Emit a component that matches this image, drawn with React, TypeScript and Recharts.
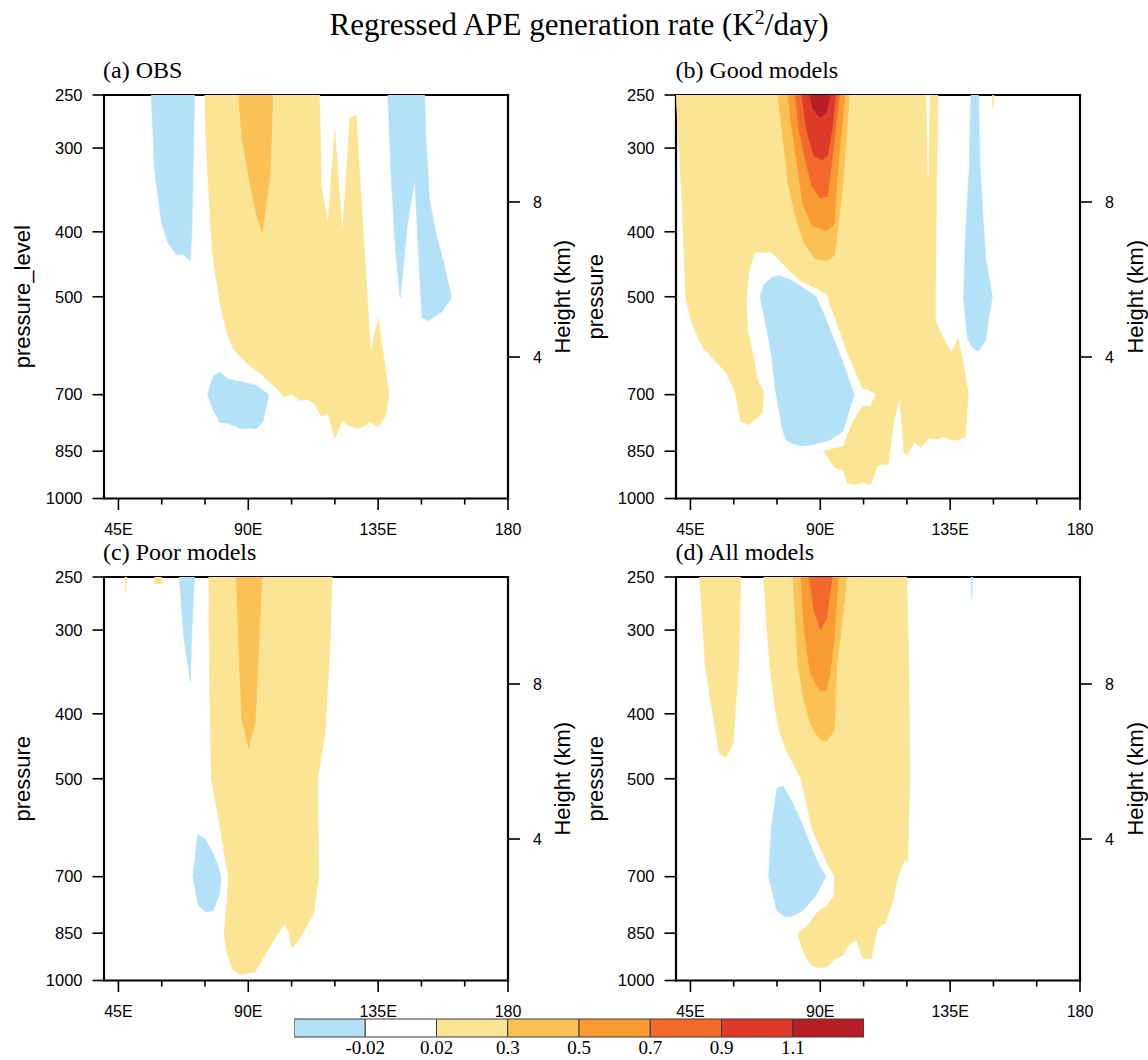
// Regressed APE generation rate — four pressure/longitude contour panels + shared colorbar.
// Filled contours are drawn as closed Scatter polygons (line renderer), lowest level first.

import React from 'react';
import { ScatterChart, Scatter, XAxis, YAxis, BarChart, Bar } from 'recharts';

type Pt = [number, number]; // [longitude °E, pressure hPa]

const SANS = '"Liberation Sans", Arial, Helvetica, sans-serif';
const SERIF = '"Liberation Serif", "Times New Roman", serif';

// colour levels: <-0.02, -0.02..0.02, 0.02..0.3, 0.3..0.5, 0.5..0.7, 0.7..0.9, 0.9..1.1, >1.1
const LEVEL_COLORS = ['#b3e1f7', '#ffffff', '#fbe594', '#fcc155', '#f99b32', '#f3692c', '#dd3a29', '#b91d24'];
const LEVEL_LABELS = ['-0.02', '0.02', '0.3', '0.5', '0.7', '0.9', '1.1'];
const LEVEL_TICKS = [1, 2, 3, 4, 5, 6, 7];

const LON_DOMAIN = [40, 180];
const LON_TICKS = [45, 60, 75, 90, 105, 120, 135, 150, 165, 180];
const P_DOMAIN = [250, 1000];
const P_TICKS = [250, 300, 400, 500, 700, 850, 1000];
const H_DOMAIN = [0.35, 10.76];
const H_TICKS = [4, 8];

// (a) OBS
const OBS_YELLOW: Pt[] = [[74.9,250],[114.7,250],[115.3,342],[117.6,389],[120,282],[122.6,403],[125.2,271],[127.4,268],[132.4,605],[135,538],[138.8,700],[137.5,754],[135,781],[132.4,770],[128,787],[124.8,779],[122.6,765],[120,813],[117.6,747],[115.3,754],[112.7,720],[110.2,711],[107.7,714],[105.1,699],[102.6,705],[98.8,679],[94.3,652],[90.5,633],[88,619],[84.8,598],[82.6,567],[80.3,514],[78.4,457],[77.5,427],[76.5,363],[75.3,287]];
const OBS_ORANGE: Pt[] = [[86.7,250],[87.7,287],[90.5,338],[93,380],[94.9,401],[96.2,363],[97.5,330],[98.1,287],[98.4,250]];
const OBS_BLUE_W: Pt[] = [[56.4,250],[57.5,323],[60,389],[62.3,417],[65.1,432],[67.4,432],[69.8,442],[70.4,407],[71.4,250]];
const OBS_BLUE_E: Pt[] = [[138.4,250],[139.4,323],[140.7,407],[142.6,502],[145.2,389],[147.7,334],[148.7,407],[150.2,538],[152.5,543],[157.2,526],[160.4,502],[157.9,447],[155.3,407],[152.8,359],[151.5,287],[151.1,250]];
const OBS_BLUE_LOW: Pt[] = [[75.9,700],[77.8,737],[80.1,770],[82.9,772],[87.7,787],[90.3,785],[92.7,787],[95,770],[97.1,700],[93,679],[89,672],[82.9,663],[80.1,648],[77.8,657]];

// (b) Good models
const GOOD_YELLOW: Pt[] = [[40,250],[130.8,250],[130.2,363],[129.9,544],[132.7,577],[135.3,605],[137.8,577],[139.7,633],[141.3,700],[140.3,808],[137.8,818],[135.3,818],[132.7,808],[130.2,816],[127.6,813],[124.9,839],[122.6,824],[120,862],[119,852],[117.5,703],[115.6,763],[113.5,889],[112.2,889],[109.9,892],[107.4,953],[104.8,946],[102.3,953],[99.5,950],[97.9,908],[94.9,898],[93.2,877],[91.1,849],[97.9,837],[101,772],[104.8,728],[107.4,728],[109.3,699],[106.1,686],[104.8,687],[99.8,612],[93.4,514],[92.2,496],[88.4,485],[83.3,474],[78.2,452],[73.1,429],[67.4,429],[65.3,457],[64.3,502],[64.9,564],[66.8,612],[68.1,663],[70.4,695],[70,745],[65.3,776],[62.4,767],[60.5,695],[57.3,648],[52.9,619],[49.7,598],[47.8,577],[45.3,544],[43.4,502],[42.1,363]];
const GOOD_YELLOW_E: Pt[] = [[149.6,250],[150.2,250],[149.8,262]];
const GOOD_O1: Pt[] = [[75.3,250],[76.9,287],[78.8,338],[81.4,380],[84.5,417],[88.4,439],[92.2,442],[94.9,434],[96,398],[97.9,338],[99.1,287],[100,250]];
const GOOD_O2: Pt[] = [[78.8,250],[79.7,271],[81.4,305],[83.9,363],[87.1,391],[92.2,399],[94.9,389],[95.7,338],[97.2,287],[98.5,250]];
const GOOD_O3: Pt[] = [[81.4,250],[82.6,281],[84.5,308],[87.1,342],[90,356],[92.5,354],[94.1,312.5],[95.3,281],[96.6,250]];
const GOOD_R1: Pt[] = [[83.7,250],[85.2,281],[87.7,308],[90.6,312.5],[92.5,308],[94.1,281],[95.3,250]];
const GOOD_R2: Pt[] = [[86.5,250],[87.3,262],[90,270],[92.2,265],[93.4,250]];
const GOOD_BLUE: Pt[] = [[69.1,500],[70.6,479],[73.1,468],[75.7,465],[80.7,474],[88.4,499],[90.9,526],[96,598],[99.1,648],[101.7,700],[99.8,745],[97.9,794],[93.4,818],[90.9,823],[87.1,832],[83.3,835],[80.7,828],[78,818],[76.7,781],[74.4,687],[73.1,612],[71.2,551]];
const GOOD_BLUE_E: Pt[] = [[142.2,250],[144.8,250],[145.4,323],[147.3,437],[149.6,500],[148.2,544],[147.3,581],[144.8,603],[142.6,594],[141,577],[139.7,502],[140.3,407],[141.6,323]];
const GOOD_WHITE: Pt[] = [[126.8,250],[127.9,250],[127.4,330]];

// (c) Poor models
const POOR_YELLOW: Pt[] = [[76.3,250],[119.1,250],[118.2,324],[116.6,428],[114,500],[114.4,700],[112.7,793],[108.3,860],[105.1,895],[104.2,850],[102.6,823],[98.1,880],[92.4,971],[87.3,979],[84.8,966],[82.6,911],[81.6,850],[82.6,765],[83.1,700],[81,621],[79.1,553],[77.2,500],[76.5,339]];
const POOR_YELLOW_W1: Pt[] = [[47.2,250],[47.9,250],[47.6,263]];
const POOR_YELLOW_W2: Pt[] = [[57.5,250],[60,250],[60,256],[57.5,256]];
const POOR_ORANGE: Pt[] = [[85.8,250],[87.7,406],[90.1,449],[92.4,413],[94.7,250]];
const POOR_BLUE_UP: Pt[] = [[66.1,250],[67.6,306],[69.9,358],[70.4,302],[71.4,250]];
const POOR_BLUE_LOW: Pt[] = [[72.5,605],[75,615],[77.2,639],[79.1,666],[80.6,700],[80,744],[77.8,787],[75.3,790],[72.7,773],[70.8,700]];

// (d) All models
const ALL_YELLOW_W: Pt[] = [[48.2,250],[50.1,339],[52.9,404],[55.1,459],[57.3,465],[59.8,443],[61.7,339],[62.4,250]];
const ALL_YELLOW: Pt[] = [[70.4,250],[120,250],[120.7,339],[121,500],[120.3,666],[119.4,658],[116.9,700],[115,765],[112.5,821],[109.9,835],[107.6,927],[104.8,927],[102.6,870],[99.8,885],[97.9,916],[94.9,930],[92.2,955],[89.6,957],[87.1,949],[85.2,927],[83.5,890],[82.3,850],[85.8,826],[89.4,787],[92.2,774],[94.7,748],[94.9,700],[92.8,674],[90.3,639],[87.1,593],[83.3,500],[78.2,454],[75.7,423],[74.2,390],[72.5,339],[71.2,285]];
const ALL_O1: Pt[] = [[80.5,250],[82.3,339],[84.3,381],[86.5,413],[88.4,428],[90.3,438],[92.2,440],[94.9,423],[95.7,339],[98.5,269],[99.1,250]];
const ALL_O2: Pt[] = [[83.3,250],[84.5,302],[86.5,347],[88.1,358],[90,370],[92.2,368],[93.4,347],[94.7,313],[96.2,250]];
const ALL_O3: Pt[] = [[86.2,250],[87.7,279],[90,300],[92.2,288],[94.1,250]];
const ALL_BLUE: Pt[] = [[75,516],[77.2,513],[80.1,540],[83.3,579],[87.1,636],[89.4,670],[91.9,700],[88.4,748],[83.9,787],[80.1,802],[78,804],[75,787],[73.6,744],[72.1,700],[73,593],[74.2,546]];
const ALL_BLUE_E: Pt[] = [[142.2,250],[142.8,250],[142.5,270]];

type Layer = { level: number; pts: Pt[] };

const PANELS: { title: string; yLabel: string; left: number; top: number; layers: Layer[] }[] = [
  {
    title: '(a) OBS', yLabel: 'pressure_level', left: 103.5, top: 95,
    layers: [
      { level: 2, pts: OBS_YELLOW }, { level: 3, pts: OBS_ORANGE },
      { level: 0, pts: OBS_BLUE_W }, { level: 0, pts: OBS_BLUE_E }, { level: 0, pts: OBS_BLUE_LOW },
    ],
  },
  {
    title: '(b) Good models', yLabel: 'pressure', left: 676, top: 95,
    layers: [
      { level: 2, pts: GOOD_YELLOW }, { level: 2, pts: GOOD_YELLOW_E },
      { level: 3, pts: GOOD_O1 }, { level: 4, pts: GOOD_O2 }, { level: 5, pts: GOOD_O3 },
      { level: 6, pts: GOOD_R1 }, { level: 7, pts: GOOD_R2 },
      { level: 0, pts: GOOD_BLUE }, { level: 0, pts: GOOD_BLUE_E }, { level: 1, pts: GOOD_WHITE },
    ],
  },
  {
    title: '(c) Poor models', yLabel: 'pressure', left: 103.5, top: 577,
    layers: [
      { level: 2, pts: POOR_YELLOW }, { level: 2, pts: POOR_YELLOW_W1 }, { level: 2, pts: POOR_YELLOW_W2 },
      { level: 3, pts: POOR_ORANGE },
      { level: 0, pts: POOR_BLUE_UP }, { level: 0, pts: POOR_BLUE_LOW },
    ],
  },
  {
    title: '(d) All models', yLabel: 'pressure', left: 676, top: 577,
    layers: [
      { level: 2, pts: ALL_YELLOW_W }, { level: 2, pts: ALL_YELLOW },
      { level: 3, pts: ALL_O1 }, { level: 4, pts: ALL_O2 }, { level: 5, pts: ALL_O3 },
      { level: 0, pts: ALL_BLUE }, { level: 0, pts: ALL_BLUE_E },
    ],
  },
];

const PLOT_W = 404;
const PLOT_H = 403.5;
const AX_L = 100;
const AX_R = 68;
const AX_T = 20;
const AX_B = 45;
const M_TOP = 25;

const lonLabel = (v: number) => (v === 180 ? '180' : `${v}E`);
const FRAME = { stroke: '#000', strokeWidth: 2.2, strokeLinecap: 'square' as const };

function BottomTick({ x, y, payload }: any) {
  const major = payload.value % 45 === 0;
  return (
    <g>
      <line x1={x} y1={y} x2={x} y2={y + (major ? 11.5 : 6)} stroke="#000" strokeWidth={1.6} />
      {major && (
        <text x={x} y={y + 36.5} textAnchor="middle" fontSize={16} fontFamily={SANS} fill="#000">
          {lonLabel(payload.value)}
        </text>
      )}
    </g>
  );
}

function TopTick({ x, y, payload }: any) {
  const major = payload.value % 45 === 0;
  return <line x1={x} y1={y} x2={x} y2={y - (major ? 11.5 : 6)} stroke="#000" strokeWidth={1.6} />;
}

function LeftTick({ x, y, payload }: any) {
  return (
    <g>
      <line x1={x} y1={y} x2={x - 11.5} y2={y} stroke="#000" strokeWidth={1.6} />
      <text x={x - 21.5} y={y + 5.8} textAnchor="end" fontSize={16.5} fontFamily={SANS} fill="#000">
        {payload.value}
      </text>
    </g>
  );
}

function RightTick({ x, y, payload }: any) {
  return (
    <g>
      <line x1={x} y1={y} x2={x + 12} y2={y} stroke="#000" strokeWidth={1.6} />
      <text x={x + 25} y={y + 5.7} textAnchor="start" fontSize={16} fontFamily={SANS} fill="#000">
        {payload.value}
      </text>
    </g>
  );
}

const polygon = (fill: string) => (lp: any) => {
  const pts = (lp.points || []) as { x: number; y: number }[];
  if (!pts.length) return <g />;
  const d = pts.map((q, i) => `${i ? 'L' : 'M'}${q.x},${q.y}`).join(' ') + ' Z';
  return <path d={d} fill={fill} stroke={fill} strokeWidth={0.6} strokeLinejoin="round" />;
};

function Panel({ left, top, layers }: { left: number; top: number; layers: Layer[] }) {
  return (
    <div style={{ position: 'absolute', left: left - AX_L, top: top - AX_T - M_TOP }}>
      <ScatterChart
        width={AX_L + PLOT_W + AX_R}
        height={M_TOP + AX_T + PLOT_H + AX_B}
        margin={{ top: M_TOP, right: 0, bottom: 0, left: 0 }}
      >
        <XAxis
          xAxisId={0} type="number" dataKey="lon" domain={LON_DOMAIN} allowDataOverflow
          ticks={LON_TICKS} interval={0} height={AX_B} tickSize={0} tickMargin={0}
          tickLine={false} axisLine={FRAME} tick={<BottomTick />}
        />
        <XAxis
          xAxisId="top" orientation="top" type="number" domain={LON_DOMAIN} allowDataOverflow
          ticks={LON_TICKS} interval={0} height={AX_T} tickSize={0} tickMargin={0}
          tickLine={false} axisLine={FRAME} tick={<TopTick />}
        />
        <YAxis
          yAxisId={0} type="number" dataKey="p" scale="log" domain={P_DOMAIN} reversed allowDataOverflow
          ticks={P_TICKS} interval={0} width={AX_L} tickSize={0} tickMargin={0}
          tickLine={false} axisLine={FRAME} tick={<LeftTick />}
        />
        <YAxis
          yAxisId="h" orientation="right" type="number" domain={H_DOMAIN} allowDataOverflow
          ticks={H_TICKS} interval={0} width={AX_R} tickSize={0} tickMargin={0}
          tickLine={false} axisLine={FRAME} tick={<RightTick />}
        />
        {layers.map((ly, i) => (
          <Scatter
            key={i}
            xAxisId={0}
            yAxisId={0}
            data={ly.pts.map(([lon, p]) => ({ lon, p }))}
            fill={LEVEL_COLORS[ly.level]}
            line={polygon(LEVEL_COLORS[ly.level])}
            lineType="joint"
            shape={() => <g />}
            isAnimationActive={false}
          />
        ))}
      </ScatterChart>
    </div>
  );
}

const CB_ROW = [Object.fromEntries(LEVEL_COLORS.map((_, i) => [`l${i}`, 1]).concat([['name', 'cb']]))];

function ColorTick({ x, y, payload }: any) {
  return (
    <text x={x} y={y + 17} textAnchor="middle" fontSize={19} fontFamily={SERIF} fill="#000">
      {LEVEL_LABELS[payload.value - 1]}
    </text>
  );
}

function ColorBar() {
  return (
    <div style={{ position: 'absolute', left: 290, top: 1015 }}>
      <BarChart
        width={578}
        height={45}
        data={CB_ROW}
        layout="vertical"
        margin={{ top: 4, right: 4, bottom: 0, left: 4 }}
        barCategoryGap={0}
      >
        <XAxis
          type="number" domain={[0, LEVEL_COLORS.length]} allowDataOverflow ticks={LEVEL_TICKS}
          interval={0} height={23} tickSize={0} tickMargin={0} tickLine={false} axisLine={false}
          tick={<ColorTick />}
        />
        <YAxis type="category" dataKey="name" hide />
        {LEVEL_COLORS.map((c, i) => (
          <Bar key={i} dataKey={`l${i}`} stackId="cb" fill={c} stroke="#3a3a3a" strokeWidth={1} isAnimationActive={false} />
        ))}
      </BarChart>
    </div>
  );
}

function Labels() {
  return (
    <svg width={1148} height={1060} style={{ position: 'absolute', left: 0, top: 0, pointerEvents: 'none' }}>
      <text x={579} y={35} textAnchor="middle" fontSize={31} fontFamily={SERIF} fill="#000">
        <tspan>Regressed APE generation rate (K</tspan>
        <tspan dy={-11.5} fontSize={20}>2</tspan>
        <tspan dy={11.5}>/day)</tspan>
      </text>
      {PANELS.map((p) => (
        <g key={p.title}>
          <text x={p.left - 0.5} y={p.top - 17} fontSize={24} fontFamily={SERIF} fill="#000">
            {p.title}
          </text>
          <text
            transform={`translate(${p.left - 81},${p.top + PLOT_H / 2}) rotate(-90)`}
            textAnchor="middle" dominantBaseline="central" fontSize={22} fontFamily={SANS} fill="#000"
          >
            {p.yLabel}
          </text>
          <text
            transform={`translate(${p.left + PLOT_W + 55},${p.top + PLOT_H / 2}) rotate(-90)`}
            textAnchor="middle" dominantBaseline="central" fontSize={22} fontFamily={SANS} fill="#000"
          >
            Height (km)
          </text>
        </g>
      ))}
    </svg>
  );
}

export default function App() {
  return (
    <div style={{ position: 'absolute', left: 0, top: 0, width: 1148, height: 1060, overflow: 'hidden', background: '#fff' }}>
      {PANELS.map((p) => (
        <Panel key={p.title} left={p.left} top={p.top} layers={p.layers} />
      ))}
      <ColorBar />
      <Labels />
    </div>
  );
}
